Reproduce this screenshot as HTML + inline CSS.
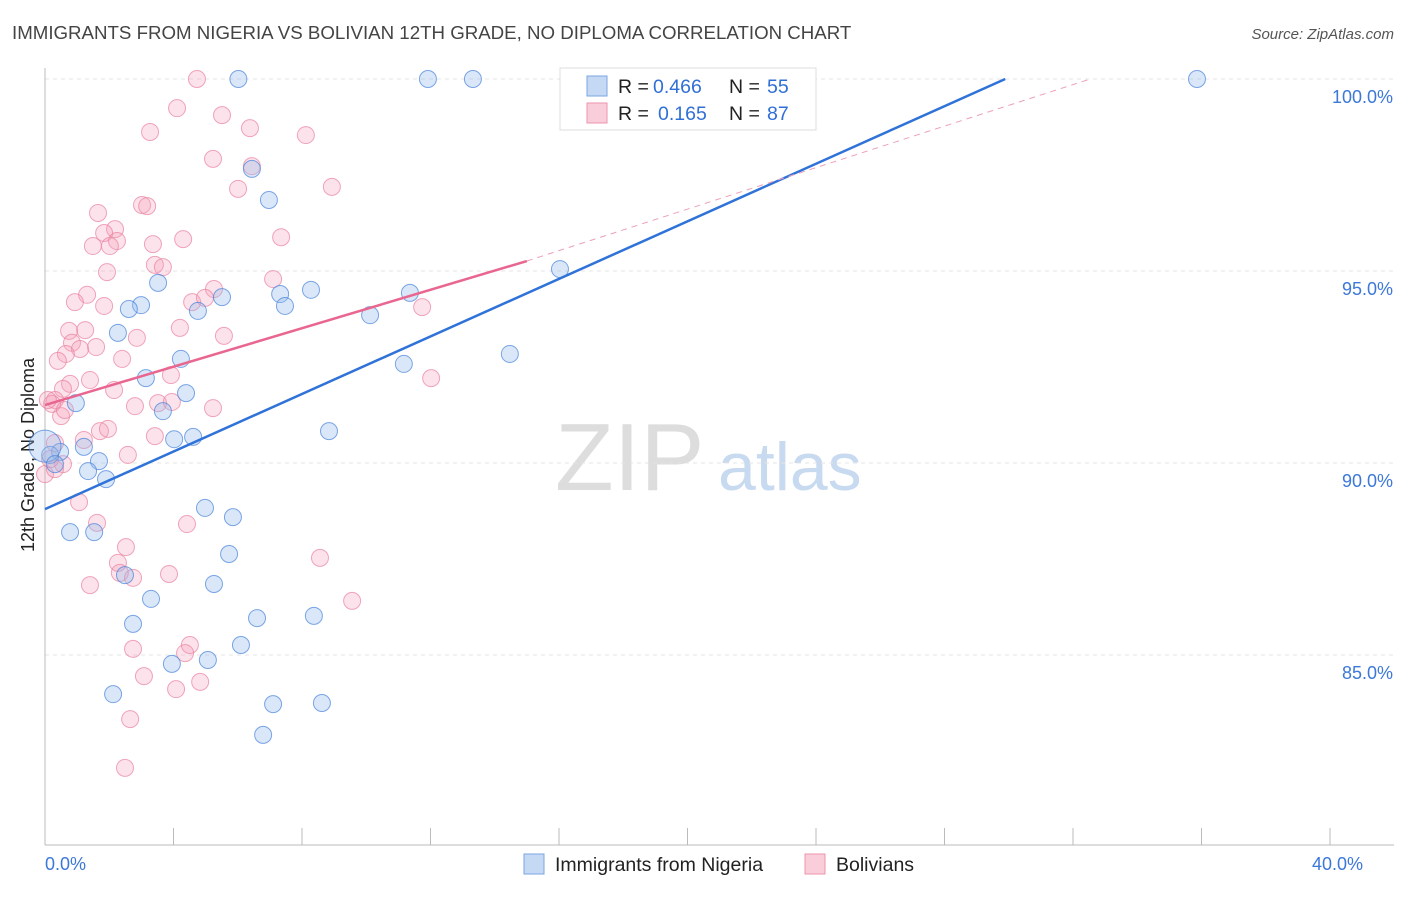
<!DOCTYPE html>
<html><head><meta charset="utf-8"><style>
body{margin:0;background:#fff;font-family:"Liberation Sans",sans-serif}
svg text{font-family:"Liberation Sans",sans-serif}
</style></head><body>
<svg id="c" width="1406" height="892">
<text x="12" y="39" font-size="18.7" fill="#444">IMMIGRANTS FROM NIGERIA VS BOLIVIAN 12TH GRADE, NO DIPLOMA CORRELATION CHART</text>
<text x="1394" y="39" font-size="15" fill="#555" font-style="italic" text-anchor="end">Source: ZipAtlas.com</text>
<text x="555" y="490" font-size="96" fill="#ddd" font-family="Liberation Serif">ZIP</text>
<text x="718" y="490" font-size="68" fill="#c8daf0">atlas</text>
<text transform="translate(34,455) rotate(-90)" font-size="18" fill="#222" text-anchor="middle">12th Grade, No Diploma</text>
<g id="grid"></g><g id="pts"></g><g id="lines"></g>
<g>
<rect x="560" y="68" width="256" height="62" fill="#fff" stroke="#ddd"/>
<rect x="587" y="76" width="20" height="20" fill="#c5d9f5" stroke="#7aa5e0"/>
<text y="93" font-size="19.5" fill="#222"><tspan x="618">R =</tspan><tspan x="653" fill="#2f6fd6">0.466</tspan><tspan x="729">N =</tspan><tspan x="767" fill="#2f6fd6">55</tspan></text>
<rect x="587" y="103" width="20" height="20" fill="#f9cdd9" stroke="#eb96ad"/>
<text y="120" font-size="19.5" fill="#222"><tspan x="618">R =</tspan><tspan x="658" fill="#2f6fd6">0.165</tspan><tspan x="729">N =</tspan><tspan x="767" fill="#2f6fd6">87</tspan></text>
</g>
<g>
<rect x="524" y="854" width="20" height="20" fill="#c5d9f5" stroke="#7aa5e0"/>
<text x="555" y="871" font-size="19.5" fill="#222">Immigrants from Nigeria</text>
<rect x="805" y="854" width="20" height="20" fill="#f9cdd9" stroke="#eb96ad"/>
<text x="836" y="871" font-size="19.5" fill="#222">Bolivians</text>
</g>
</svg>
<script>
const xTicks=[0,4,8,12,16,20,24,28,32,36,40];
const yTicks=[85,90,95,100];
const blueX=[6.02,11.92,13.32,16.62,35.86,6.44,6.97,16.03,3.52,2.99,2.61,2.27,4.76,5.51,7.32,7.47,8.28,10.12,11.36,11.17,14.47,4.23,3.14,0.96,4.39,3.67,4.02,4.61,8.84,1.21,0.47,0.16,1.68,1.34,1.9,0.78,1.53,4.98,5.85,5.73,2.49,5.26,3.3,2.74,6.6,8.37,3.95,5.07,6.1,2.12,7.1,8.62,6.79,0,0.31];
const blueY=[100,100,100,100,100,97.66,96.85,95.05,94.69,94.11,94.01,93.39,93.96,94.32,94.4,94.09,94.51,93.85,94.43,92.58,92.84,92.71,92.21,91.56,91.82,91.35,90.62,90.68,90.83,90.42,90.29,90.21,90.05,89.79,89.58,88.2,88.2,88.83,88.59,87.63,87.08,86.85,86.46,85.81,85.96,86.02,84.77,84.87,85.26,83.98,83.72,83.75,82.92,90.44,89.97];
const pinkX=[4.73,4.11,5.51,3.27,6.38,8.12,5.23,6.44,6.01,8.93,1.65,3.02,3.18,2.18,1.84,2.24,1.49,2.02,3.36,4.3,7.35,1.93,3.42,3.67,7.1,5.26,1.31,0.93,1.84,4.58,4.98,11.74,0.75,1.25,4.2,5.57,2.86,0.84,1.09,1.59,0.65,0.4,2.4,1.4,3.92,12.02,0.78,0.56,2.15,0.31,0.22,2.8,3.52,3.95,5.23,0.5,1.71,1.96,3.42,1.21,0.31,2.58,0.56,1.06,1.62,4.42,2.52,2.27,2.33,2.74,3.86,8.56,1.4,9.56,2.74,4.51,4.36,3.08,4.83,4.08,2.65,2.49,0,0.31,0.16,0.09,0.62];
const pinkY=[100,99.24,99.06,98.62,98.72,98.54,97.92,97.73,97.14,97.19,96.51,96.72,96.69,96.09,95.99,95.78,95.65,95.65,95.7,95.83,95.88,94.97,95.16,95.1,94.79,94.53,94.38,94.19,94.09,94.19,94.3,94.06,93.44,93.46,93.52,93.31,93.26,93.13,92.97,93.02,92.84,92.66,92.71,92.16,92.29,92.21,92.06,91.93,91.9,91.64,91.54,91.48,91.56,91.59,91.43,91.22,90.83,90.89,90.7,90.6,90.52,90.21,89.97,88.98,88.44,88.41,87.81,87.4,87.14,87.01,87.11,87.53,86.82,86.41,85.16,85.26,85.05,84.45,84.3,84.11,83.33,82.06,89.71,89.84,90.1,91.64,91.38];
const blueLine=[0,88.8,29.89,100];
const pinkLine=[0,91.51,15,95.26];
const pinkDash=[15,95.26,32.54,100];
const NS='http://www.w3.org/2000/svg';
const X=v=>45+v*32.125, Y=v=>79+(100-v)*38.4;
function mk(tag,attrs,parent){const e=document.createElementNS(NS,tag);for(const k in attrs)e.setAttribute(k,attrs[k]);document.getElementById(parent).appendChild(e);return e;}
yTicks.forEach(t=>{
 const l=mk('line',{x1:45,x2:1394,y1:Y(t),y2:Y(t),stroke:'#e4e4e4','stroke-dasharray':'4,4'},'grid');
 
 
 const tx=mk('text',{x:1393,y:Y(t)+24,'font-size':18,fill:'#3b78d8','text-anchor':'end'},'grid');
 tx.textContent=t.toFixed(1)+'%';
 
 
});
const ax=mk('line',{x1:45,x2:45,y1:68,y2:845,stroke:'#bbb'},'grid');


const bx=mk('line',{x1:45,x2:1394,y1:845,y2:845,stroke:'#bbb'},'grid');


xTicks.forEach(t=>{
 const l=mk('line',{x1:X(t),x2:X(t),y1:828,y2:845,stroke:'#bbb'},'grid');
 
 
});
[[0,'start'],[40,'end']].forEach(([t,a])=>{
 const tx=mk('text',{x:X(t)+(t?33:0),y:870,'font-size':18,fill:'#3b78d8','text-anchor':a},'grid');
 tx.textContent=t.toFixed(1)+'%';
 
 
});
pinkX.forEach((v,i)=>{
 const c=mk('circle',{cx:X(v),cy:Y(pinkY[i]),r:8.5,fill:'rgba(244,160,185,0.3)',stroke:'rgba(234,130,160,0.7)'},'pts');
 
 
});
blueX.forEach((v,i)=>{
 const c=mk('circle',{cx:X(v),cy:Y(blueY[i]),r:i==53?16:8.5,fill:'rgba(150,185,235,0.35)',stroke:'rgba(70,130,220,0.7)'},'pts');
 
 
});
const bl=mk('line',{x1:X(blueLine[0]),y1:Y(blueLine[1]),x2:X(blueLine[2]),y2:Y(blueLine[3]),stroke:'#2f72d8','stroke-width':2.5},'lines');


const pl=mk('line',{x1:X(pinkLine[0]),y1:Y(pinkLine[1]),x2:X(pinkLine[2]),y2:Y(pinkLine[3]),stroke:'#e8668f','stroke-width':2.5},'lines');


const pd=mk('line',{x1:X(pinkDash[0]),y1:Y(pinkDash[1]),x2:X(pinkDash[2]),y2:Y(pinkDash[3]),stroke:'#eea0b8','stroke-width':1,'stroke-dasharray':'6,5'},'lines');


</script>
</body></html>
